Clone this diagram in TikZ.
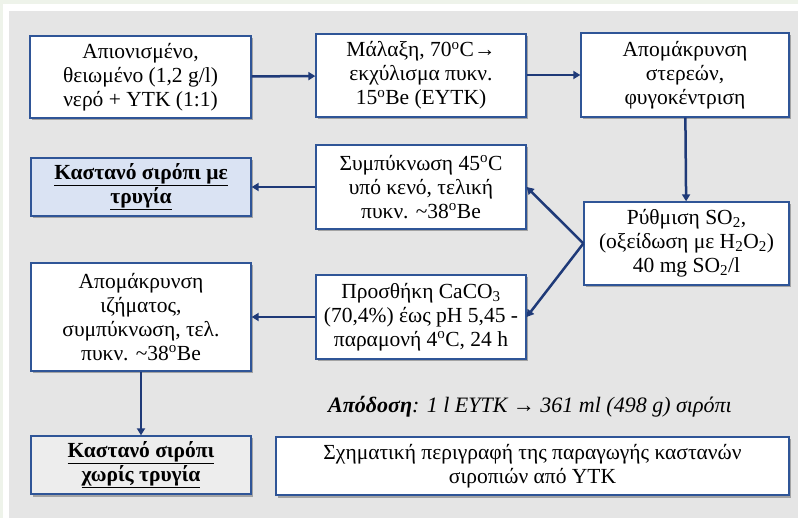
\documentclass[tikz,border=0pt]{standalone}
\usepackage{fontspec}
\setmainfont{Liberation Serif}
\usetikzlibrary{shadows,arrows.meta}
\definecolor{panel}{HTML}{E5E5E5}
\definecolor{outer}{HTML}{EEF3EA}
\definecolor{boxline}{HTML}{2F5597}
\definecolor{arrowc}{HTML}{1F3A78}
\definecolor{bluefill}{HTML}{DAE3F3}
\definecolor{greyfill}{HTML}{EDEDED}
\tikzset{
  stepbox/.style={draw=boxline, line width=1.3pt, fill=white, align=center,
    inner sep=2pt, font=\fontsize{21.5}{24}\selectfont,
    drop shadow={shadow xshift=2pt, shadow yshift=-2.5pt, opacity=0.4, fill=black!75}},
  flow/.style={draw=arrowc, line width=2.5pt, -{Triangle[length=7pt,width=8pt]}},
}
\begin{document}
\begin{tikzpicture}[x=1pt,y=-1pt]
\fill[outer] (0,0) rectangle (798,518);
\fill[white] (3,4) rectangle (798,518);
\fill[panel] (9,11) rectangle (798,518);
\useasboundingbox (0,0) rectangle (798,518);

\node[stepbox, minimum width=221pt, minimum height=82pt] (a) at (140.5,77)
  {Απιονισμένο,\\θειωμένο (1,2 g/l)\\νερό + ΥΤΚ (1:1)};
\node[stepbox, minimum width=210pt, minimum height=83pt] (b) at (421,75.5)
  {Μάλαξη, 70\textsuperscript{o}C→\\εκχύλισμα πυκν.\\15\textsuperscript{o}Be (ΕΥΤΚ)};
\node[stepbox, minimum width=208pt, minimum height=84pt] (c) at (685,75)
  {Απομάκρυνση\\στερεών,\\φυγοκέντριση};
\node[stepbox, fill=bluefill, minimum width=220pt, minimum height=58pt] (d) at (141,187)
  {\textbf{\underline{Καστανό σιρόπι με}}\\\textbf{\underline{τρυγία}}};
\node[stepbox, minimum width=210pt, minimum height=84pt] (e) at (421,187)
  {Συμπύκνωση 45\textsuperscript{o}C\\υπό κενό, τελική\\πυκν. \textasciitilde38\textsuperscript{o}Be};
\node[stepbox, minimum width=205pt, minimum height=83pt] (f) at (686.5,243.5)
  {Ρύθμιση SO\textsubscript{2},\\(οξείδωση με H\textsubscript{2}O\textsubscript{2})\\40 mg SO\textsubscript{2}/l};
\node[stepbox, minimum width=210pt, minimum height=84pt] (g) at (421,317)
  {Προσθήκη CaCO\textsubscript{3}\\(70,4\%) έως pH 5,45 -\\παραμονή 4\textsuperscript{o}C, 24 h};
\node[stepbox, minimum width=220pt, minimum height=108pt] (h) at (141,317)
  {Απομάκρυνση\\ιζήματος,\\συμπύκνωση, τελ.\\πυκν. \textasciitilde38\textsuperscript{o}Be};
\node[stepbox, fill=greyfill, minimum width=220pt, minimum height=58pt] (i) at (141,465)
  {\textbf{\underline{Καστανό σιρόπι}}\\\textbf{\underline{χωρίς τρυγία}}};
\node[stepbox, minimum width=513pt, minimum height=58pt, drop shadow={opacity=0}] (cap) at (532.5,466)
  {Σχηματική περιγραφή της παραγωγής καστανών\\σιροπιών από ΥΤΚ};
\node[font=\fontsize{22}{24}\selectfont\itshape] (y) at (530,407)
  {\textbf{Απόδοση}: 1 l ΕΥΤΚ → 361 ml (498 g) σιρόπι};

\draw[flow] (a) -- (b);
\draw[flow] (b.east |- c.west) -- (c.west);
\draw[flow] (c) -- (f);
\draw[flow] (f.west) -- (e.east);
\draw[flow] (f.west) -- (g.east);
\draw[flow] (e) -- (d);
\draw[flow] (g) -- (h);
\draw[flow] (h) -- (i);
\end{tikzpicture}
\end{document}
